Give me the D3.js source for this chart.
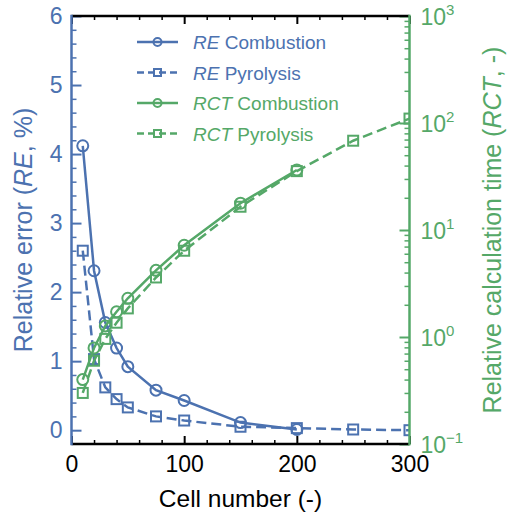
<!DOCTYPE html>
<html>
<head>
<meta charset="utf-8">
<script src="https://cdn.jsdelivr.net/npm/d3@7"></script>
<style>
  body { margin: 0; background: #fff; }
  svg { font-family: "Liberation Sans", Arial, sans-serif; }
</style>
</head>
<body>
<svg width="507" height="516"></svg>
<script>
const svg = d3.select('svg')

// DATA
const cellsRE = [10, 20, 30, 40, 50, 75, 100, 150, 200]
const reCombustion = [4.12, 2.31, 1.56, 1.19, 0.92, 0.58, 0.43, 0.11, 0.01]
const cellsPyro = [10, 20, 30, 40, 50, 75, 100, 150, 200, 250, 300]
const rePyrolysis = [2.60, 1.03, 0.62, 0.45, 0.33, 0.20, 0.14, 0.05, 0.03, 0.01, 0.0]
const cellsRCT = [10, 20, 30, 40, 50, 75, 100, 150, 200]
const rctCombustion = [0.40, 0.79, 1.27, 1.72, 2.3, 4.2, 7.2, 17.8, 36.4]
const rctPyrolysis = [0.30, 0.60, 0.96, 1.36, 1.85, 3.6, 6.4, 16.5, 35.5, 68.3, 110]

const xTicks = [0, 100, 200, 300]
const yLeftTicks = [0, 1, 2, 3, 4, 5, 6]
const yRightTicks = [0.1, 1, 10, 100, 1000]
const yRightLabels = ['\u22121', '0', '1', '2', '3']

const blue = '#4c72b0'
const green = '#55a868'

const margin = {top: 16, right: 97.5, bottom: 72, left: 71.5}
const width = 507, height = 516
const x0 = margin.left, x1 = width - margin.right
const y0 = height - margin.bottom, y1 = margin.top

// SCALES
const xScale = d3.scaleLinear().domain([0, 300]).range([x0, x1])
const yLeft = d3.scaleLinear().domain([-0.2, 6]).range([y0, y1])
const yRight = d3.scaleLog().domain([0.1, 1000]).range([y0, y1])

svg.append('defs').append('clipPath').attr('id', 'clip')
  .append('rect').attr('x', x0).attr('y', y1).attr('width', x1 - x0).attr('height', y0 - y1)

// SERIES
const series = [
  {xs: cellsRE, ys: reCombustion, y: yLeft, color: blue, dash: null, marker: 'circle'},
  {xs: cellsPyro, ys: rePyrolysis, y: yLeft, color: blue, dash: '10,5', marker: 'square'},
  {xs: cellsRCT, ys: rctCombustion, y: yRight, color: green, dash: null, marker: 'circle'},
  {xs: cellsPyro, ys: rctPyrolysis, y: yRight, color: green, dash: '10,5', marker: 'square'}
]

const plot = svg.append('g').attr('clip-path', 'url(#clip)')

const drawMarker = (g, type, cx, cy, size, color) => {
  if (type === 'circle') {
    g.append('circle').attr('cx', cx).attr('cy', cy).attr('r', size)
      .attr('fill', 'none').attr('stroke', color).attr('stroke-width', 2)
  } else {
    g.append('rect').attr('x', cx - size).attr('y', cy - size)
      .attr('width', size * 2).attr('height', size * 2)
      .attr('fill', 'none').attr('stroke', color).attr('stroke-width', 2)
  }
}

series.forEach(s => {
  const pts = s.xs.map((c, i) => [xScale(c), s.y(s.ys[i])])
  plot.append('path')
    .attr('d', d3.line()(pts))
    .attr('fill', 'none')
    .attr('stroke', s.color)
    .attr('stroke-width', 2.5)
    .attr('stroke-dasharray', s.dash)
  pts.forEach(p => drawMarker(plot, s.marker, p[0], p[1], s.marker === 'circle' ? 5.5 : 5, s.color))
})

// AXES
const minorX = d3.range(20, 300, 20).filter(v => v % 100 !== 0)

svg.append('g').attr('transform', `translate(0,${y0})`)
  .call(d3.axisBottom(xScale).tickValues(xTicks).tickSize(-8).tickPadding(12).tickSizeOuter(0))
  .call(g => g.select('.domain').remove())
  .call(g => g.selectAll('text').attr('font-size', 23).attr('fill', '#000').style('font-family', 'Liberation Sans'))
  .call(g => g.selectAll('line').attr('stroke', '#000').attr('stroke-width', 2))
svg.append('g').attr('transform', `translate(0,${y0})`)
  .call(d3.axisBottom(xScale).tickValues(minorX).tickSize(-4).tickFormat(''))
  .call(g => g.select('.domain').remove())
  .call(g => g.selectAll('line').attr('stroke', '#000').attr('stroke-width', 1.5))

svg.append('g').attr('transform', `translate(0,${y1})`)
  .call(d3.axisTop(xScale).tickValues(xTicks).tickSize(-8).tickFormat(''))
  .call(g => g.select('.domain').remove())
  .call(g => g.selectAll('line').attr('stroke', '#000').attr('stroke-width', 2))
svg.append('g').attr('transform', `translate(0,${y1})`)
  .call(d3.axisTop(xScale).tickValues(minorX).tickSize(-4).tickFormat(''))
  .call(g => g.select('.domain').remove())
  .call(g => g.selectAll('line').attr('stroke', '#000').attr('stroke-width', 1.5))

const minorYL = d3.range(1, 30).map(i => i * 0.2).filter(v => Math.abs(v - Math.round(v)) > 0.01)

svg.append('g').attr('transform', `translate(${x0},0)`)
  .call(d3.axisLeft(yLeft).tickValues(yLeftTicks).tickSize(-10).tickPadding(9).tickFormat(d3.format('d')))
  .call(g => g.select('.domain').remove())
  .call(g => g.selectAll('text').attr('font-size', 23).attr('fill', blue).style('font-family', 'Liberation Sans'))
  .call(g => g.selectAll('line').attr('stroke', blue).attr('stroke-width', 2))
svg.append('g').attr('transform', `translate(${x0},0)`)
  .call(d3.axisLeft(yLeft).tickValues(minorYL).tickSize(-5).tickFormat(''))
  .call(g => g.select('.domain').remove())
  .call(g => g.selectAll('line').attr('stroke', blue).attr('stroke-width', 1.5))

const minorYR = []
;[0.1, 1, 10, 100].forEach(d => { for (let k = 2; k <= 9; k++) minorYR.push(d * k) })

svg.append('g').attr('transform', `translate(${x1},0)`)
  .call(d3.axisRight(yRight).tickValues(yRightTicks).tickSize(-10).tickFormat(''))
  .call(g => g.select('.domain').remove())
  .call(g => g.selectAll('line').attr('stroke', green).attr('stroke-width', 2))
svg.append('g').attr('transform', `translate(${x1},0)`)
  .call(d3.axisRight(yRight).tickValues(minorYR).tickSize(-5).tickFormat(''))
  .call(g => g.select('.domain').remove())
  .call(g => g.selectAll('line').attr('stroke', green).attr('stroke-width', 1.5))

yRightTicks.forEach((v, i) => {
  const t = svg.append('text')
    .attr('x', x1 + 11)
    .attr('y', yRight(v) + 8.5)
    .attr('fill', green)
    .attr('font-size', 23)
  t.append('tspan').text('10')
  t.append('tspan').attr('font-size', 15).attr('dy', -10).text(yRightLabels[i])
})

// FRAME
svg.append('line').attr('x1', x0).attr('x2', x1).attr('y1', y1).attr('y2', y1).attr('stroke', '#000').attr('stroke-width', 2.5)
svg.append('line').attr('x1', x0).attr('x2', x1).attr('y1', y0).attr('y2', y0).attr('stroke', '#000').attr('stroke-width', 2.5)
svg.append('line').attr('x1', x0).attr('x2', x0).attr('y1', y1 - 1.25).attr('y2', y0 + 1.25).attr('stroke', blue).attr('stroke-width', 2.5)
svg.append('line').attr('x1', x1).attr('x2', x1).attr('y1', y1 - 1.25).attr('y2', y0 + 1.25).attr('stroke', green).attr('stroke-width', 2.5)

// AXIS LABELS
svg.append('text')
  .attr('x', (x0 + x1) / 2).attr('y', 507)
  .attr('text-anchor', 'middle').attr('font-size', 24.5).attr('fill', '#000')
  .text('Cell number (-)')

const leftLabel = svg.append('text')
  .attr('transform', `translate(32,${(y0 + y1) / 2}) rotate(-90)`)
  .attr('text-anchor', 'middle').attr('font-size', 25).attr('fill', blue)
leftLabel.append('tspan').text('Relative error (')
leftLabel.append('tspan').attr('font-style', 'italic').text('RE')
leftLabel.append('tspan').text(', %)')

const rightLabel = svg.append('text')
  .attr('transform', `translate(501,${(y0 + y1) / 2}) rotate(-90)`)
  .attr('text-anchor', 'middle').attr('font-size', 25).attr('fill', green)
rightLabel.append('tspan').text('Relative calculation time (')
rightLabel.append('tspan').attr('font-style', 'italic').text('RCT')
rightLabel.append('tspan').text(', -)')

// LEGEND
const legendItems = [
  {abbr: 'RE', name: ' Combustion', color: blue, dash: null, marker: 'circle'},
  {abbr: 'RE', name: ' Pyrolysis', color: blue, dash: '7,4', marker: 'square'},
  {abbr: 'RCT', name: ' Combustion', color: green, dash: null, marker: 'circle'},
  {abbr: 'RCT', name: ' Pyrolysis', color: green, dash: '7,4', marker: 'square'}
]
const legend = svg.append('g')
legendItems.forEach((d, i) => {
  const ly = 42 + i * 30.5
  legend.append('line').attr('x1', 137).attr('x2', 178).attr('y1', ly).attr('y2', ly)
    .attr('stroke', d.color).attr('stroke-width', 2.5).attr('stroke-dasharray', d.dash)
  drawMarker(legend, d.marker, 157.5, ly, d.marker === 'circle' ? 4 : 3.5, d.color)
  const t = legend.append('text').attr('x', 193).attr('y', ly + 7)
    .attr('font-size', 19).attr('fill', d.color)
  t.append('tspan').attr('font-style', 'italic').text(d.abbr)
  t.append('tspan').text(d.name)
})
</script>
</body>
</html>
